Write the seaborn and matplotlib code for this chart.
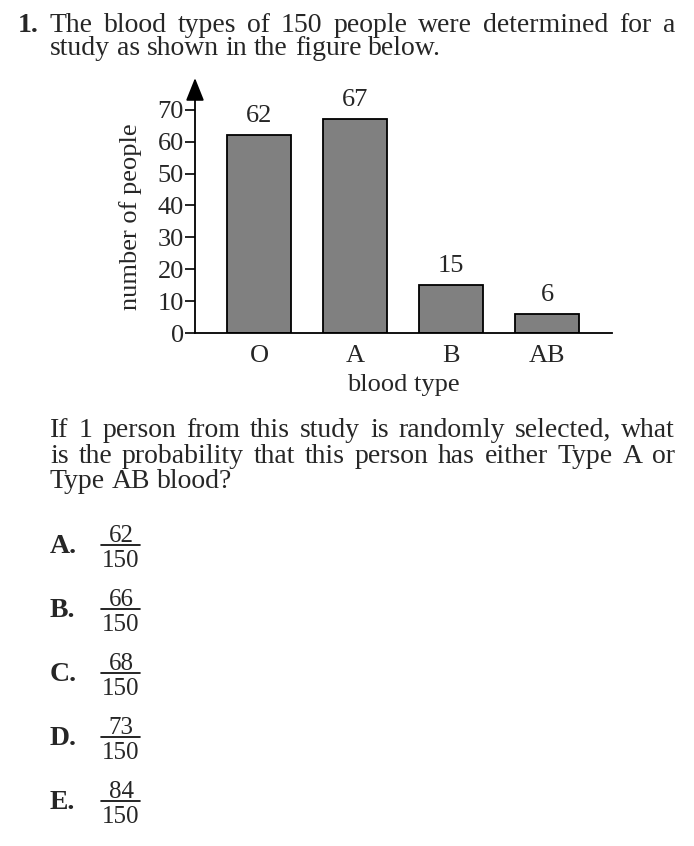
import matplotlib
matplotlib.use("Agg")
import matplotlib.pyplot as plt
import seaborn as sns
import pandas as pd

# ---- data ----
blood_types = ["O", "A", "B", "AB"]
counts = [62, 67, 15, 6]
y_ticks = [0, 10, 20, 30, 40, 50, 60, 70]
choice_letters = ["A.", "B.", "C.", "D.", "E."]
numerators = ["62", "66", "68", "73", "84"]
denominator = "150"

W, H = 694, 846
sns.set_theme(style="white")
plt.rcParams["font.family"] = ["Liberation Serif", "DejaVu Serif"]

fig = plt.figure(figsize=(W / 100, H / 100), dpi=100)

def fx(px):
    return px / W

def fy(py):
    return 1 - py / H

CS = 19  # chart font size

# ---- axes ----
ax_left, ax_right = 195, 612
ax_bottom, ax_top = 333, 78
ax = fig.add_axes([fx(ax_left), fy(ax_bottom), (ax_right - ax_left) / W, (ax_bottom - ax_top) / H])
df = pd.DataFrame({"type": blood_types, "count": counts})
sns.barplot(data=df, x="type", y="count", ax=ax, color="#808080", width=0.667,
            edgecolor="black", linewidth=1.3, saturation=1)
ax.set_xlim(-0.667, 3.677)
ax.set_ylim(0, 80)
ax.set_yticks(y_ticks)
ax.set_yticklabels([str(t) for t in y_ticks], fontsize=CS)
ax.tick_params(axis="y", direction="out", length=7, width=1.2, color="black", pad=1, left=True)
ax.tick_params(axis="x", length=0, pad=9, labelsize=CS)
for s in ["top", "right", "left"]:
    ax.spines[s].set_visible(False)
ax.spines["bottom"].set_color("black")
ax.spines["bottom"].set_linewidth(1.3)
ax.annotate("", xy=(0, 1.0), xytext=(0, 0), xycoords="axes fraction",
            arrowprops=dict(arrowstyle="-|>,head_length=1.0,head_width=0.4", lw=1.3,
                            color="black", mutation_scale=14, shrinkA=0, shrinkB=0))
for c in ax.containers:
    ax.bar_label(c, labels=[str(v) for v in counts], padding=6, fontsize=CS)
ax.set_xlabel("blood type", fontsize=CS, labelpad=5)
ax.set_ylabel("number of people", fontsize=CS)
ax.yaxis.set_label_coords(-0.127, 0.455)
ax.patch.set_alpha(0)

# ---- text helpers ----
renderer = fig.canvas.get_renderer()

def justify(words, x0, x1, base, size, weights=None):
    arts = []
    widths = []
    for i, w in enumerate(words):
        wt = weights[i] if weights else "normal"
        t = fig.text(0, fy(base), w, fontsize=size, fontweight=wt, va="baseline", ha="left")
        arts.append(t)
        widths.append(t.get_window_extent(renderer).width)
    gap = (x1 - x0 - sum(widths)) / (len(words) - 1) if x1 is not None else size * 0.34
    x = x0
    for t, wd in zip(arts, widths):
        t.set_x(fx(x))
        x += wd + gap

FS = 20
justify(["1.", "The", "blood", "types", "of", "150", "people", "were", "determined", "for", "a"],
        18, 675, 32, FS, weights=["bold"] + ["normal"] * 10)
justify(["study", "as", "shown", "in", "the", "figure", "below."], 50, None, 55, FS)

justify("If 1 person from this study is randomly selected, what".split(), 50, 675, 437, FS)
justify("is the probability that this person has either Type A or".split(), 50, 675, 463, FS)
justify("Type AB blood?".split(), 50, None, 488, FS)

# ---- answer choices ----
for i, (let, num) in enumerate(zip(choice_letters, numerators)):
    yc = 545 + 64 * i
    fig.text(fx(50), fy(yc + 8), let, fontsize=FS, fontweight="bold", va="baseline", ha="left")
    fig.text(fx(121), fy(yc - 3), num, fontsize=18, va="baseline", ha="center")
    fig.text(fx(121), fy(yc + 22), denominator, fontsize=18, va="baseline", ha="center")
    fig.add_artist(plt.Line2D([fx(101), fx(140)], [fy(yc), fy(yc)], color="black", lw=1.2))

fig.savefig("out.png", dpi=100)
